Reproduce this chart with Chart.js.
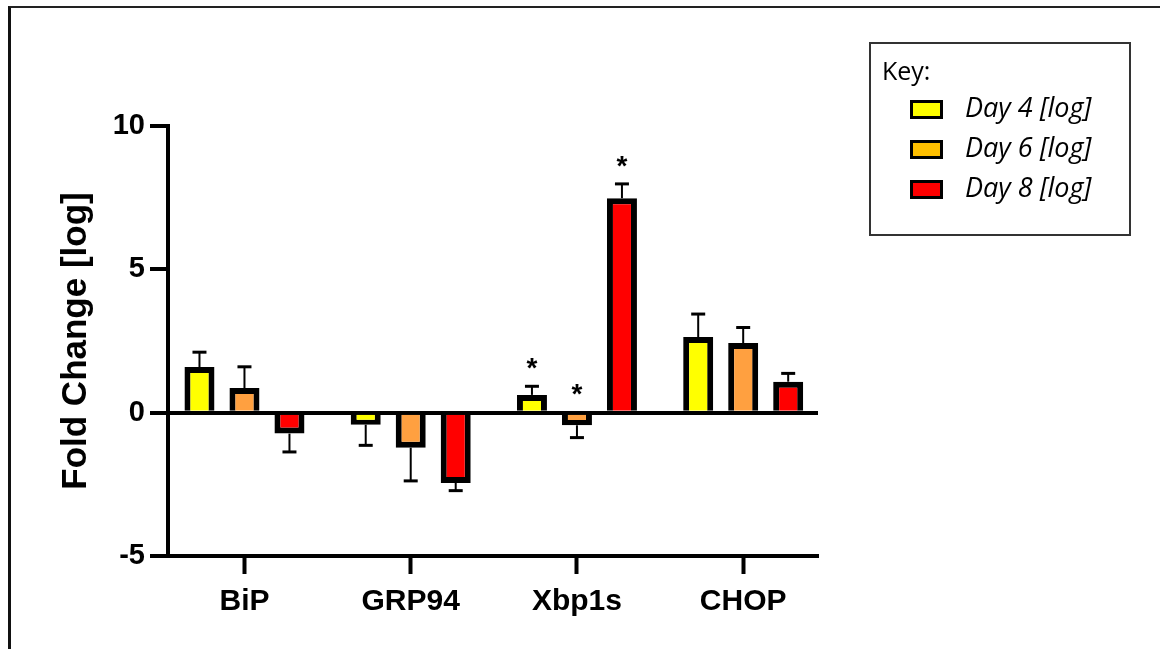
<!DOCTYPE html>
<html>
<head>
<meta charset="utf-8">
<script src="https://cdn.jsdelivr.net/npm/chart.js@4/dist/chart.umd.min.js"></script>
<style>
  html,body{margin:0;padding:0;background:#fff;}
  #wrap{position:relative;width:1160px;height:649px;overflow:hidden;}
  #frame{position:absolute;left:8px;top:6px;right:-4px;bottom:-4px;border-top:2px solid #222;border-left:3px solid #111;}
  #key{position:absolute;left:869px;top:42px;width:258px;height:190px;border:2px solid #333;font-family:"Open Sans",Lato,sans-serif;color:#000;}
  #key .title{position:absolute;left:11px;top:9px;font-size:25px;}
  #key .row{position:absolute;left:39px;height:24px;}
  #key .sw{position:absolute;left:0;top:0;width:27px;height:13px;border:3px solid #000;}
  #key .lbl{position:absolute;left:55px;top:-12px;font-size:27px;font-style:italic;white-space:nowrap;}
</style>
</head>
<body>
<div id="wrap">
  <canvas id="chart" width="1160" height="649"></canvas>
  <div id="frame"></div>
  <div id="key"><div class="title">Key:</div></div>
</div>
<script>
const genes=['BiP','GRP94','Xbp1s','CHOP'];
const seriesNames=['Day 4 [log]','Day 6 [log]','Day 8 [log]'];
const barColors=['#ffff00','#ffa040','#ff0000'];
const keyColors=['#ffff00','#ffc000','#ff0000'];
const day4=[1.59,-0.42,0.62,2.64];
const day6=[0.86,-1.22,-0.44,2.43];
const day8=[-0.73,-2.45,7.48,1.08];
const day4Err=[0.52,0.72,0.30,0.80];
const day6Err=[0.74,1.16,0.43,0.54];
const day8Err=[0.64,0.27,0.50,0.29];
const day4Sig=[false,false,true,false];
const day6Sig=[false,false,true,false];
const day8Sig=[false,false,true,false];
const yTicks=[-5,0,5,10];

const values=[day4,day6,day8];
const errors=[day4Err,day6Err,day8Err];
const signif=[day4Sig,day6Sig,day8Sig];

// error bars point away from zero, asterisks sit above the upper end
const errorBars={
  id:'errorBars',
  afterDatasetsDraw(chart){
    const ctx=chart.ctx, y=chart.scales.y;
    ctx.save();
    ctx.strokeStyle='#000';
    chart.data.datasets.forEach((ds,di)=>{
      chart.getDatasetMeta(di).data.forEach((bar,i)=>{
        const v=values[di][i], e=errors[di][i];
        const end=v>=0?v+e:v-e;
        const y0=y.getPixelForValue(v), y1=y.getPixelForValue(end);
        ctx.lineWidth=2;
        ctx.beginPath();ctx.moveTo(bar.x,y0);ctx.lineTo(bar.x,y1);ctx.stroke();
        ctx.lineWidth=3;
        ctx.beginPath();ctx.moveTo(bar.x-7,y1);ctx.lineTo(bar.x+7,y1);ctx.stroke();
        if(signif[di][i]){
          const top=Math.max(0,end);
          ctx.fillStyle='#000';
          ctx.font='bold 28px "Liberation Sans", Arial, sans-serif';
          ctx.textAlign='center';ctx.textBaseline='middle';
          ctx.fillText('*',bar.x,y.getPixelForValue(top)-17);
        }
      });
    });
    ctx.restore();
  }
};

const boldFont=s=>({family:'"Liberation Sans", Arial, sans-serif',size:s,weight:'bold'});

new Chart(document.getElementById('chart'),{
  type:'bar',
  data:{
    datasets:values.map((arr,di)=>({
      label:seriesNames[di],
      data:arr.map((v,i)=>({x:i,y:v})),
      backgroundColor:barColors[di],
      borderColor:'#000',
      borderWidth:6,
      borderSkipped:'start',
      categoryPercentage:0.812,
      barPercentage:0.667
    }))
  },
  options:{
    responsive:false,
    animation:false,
    layout:{padding:{left:0,top:126,right:342,bottom:0}},
    plugins:{legend:{display:false},tooltip:{enabled:false}},
    scales:{
      x:{
        type:'linear',min:-0.46,max:3.45,offset:false,
        afterBuildTicks:s=>{s.ticks=genes.map((g,i)=>({value:i}));},
        afterFit:s=>{s.height=93;},
        ticks:{callback:v=>genes[v],font:boldFont(30),color:'#000',padding:10,autoSkip:false,maxRotation:0},
        grid:{offset:false,drawOnChartArea:false,tickLength:18,tickWidth:4,tickColor:'#000'},
        border:{width:4,color:'#000'}
      },
      y:{
        min:-5,max:10,
        afterBuildTicks:s=>{s.ticks=yTicks.map(v=>({value:v}));},
        afterFit:s=>{s.width=168;},
        ticks:{font:boldFont(29),color:'#000',padding:5},
        grid:{color:c=>c.tick&&c.tick.value===0?'#000':'rgba(0,0,0,0)',lineWidth:4,tickLength:18,tickWidth:4,tickColor:'#000'},
        border:{width:4,color:'#000'},
        title:{display:true,text:'Fold Change [log]',font:boldFont(35),color:'#000',padding:{top:55,bottom:0}}
      }
    }
  },
  plugins:[errorBars]
});

// key box
const key=document.getElementById('key');
seriesNames.forEach((n,i)=>{
  const row=document.createElement('div');
  row.className='row';
  row.style.top=(56+i*40)+'px';
  row.innerHTML=`<div class="sw" style="background:${keyColors[i]}"></div><div class="lbl">${n}</div>`;
  key.appendChild(row);
});
</script>
</body>
</html>
